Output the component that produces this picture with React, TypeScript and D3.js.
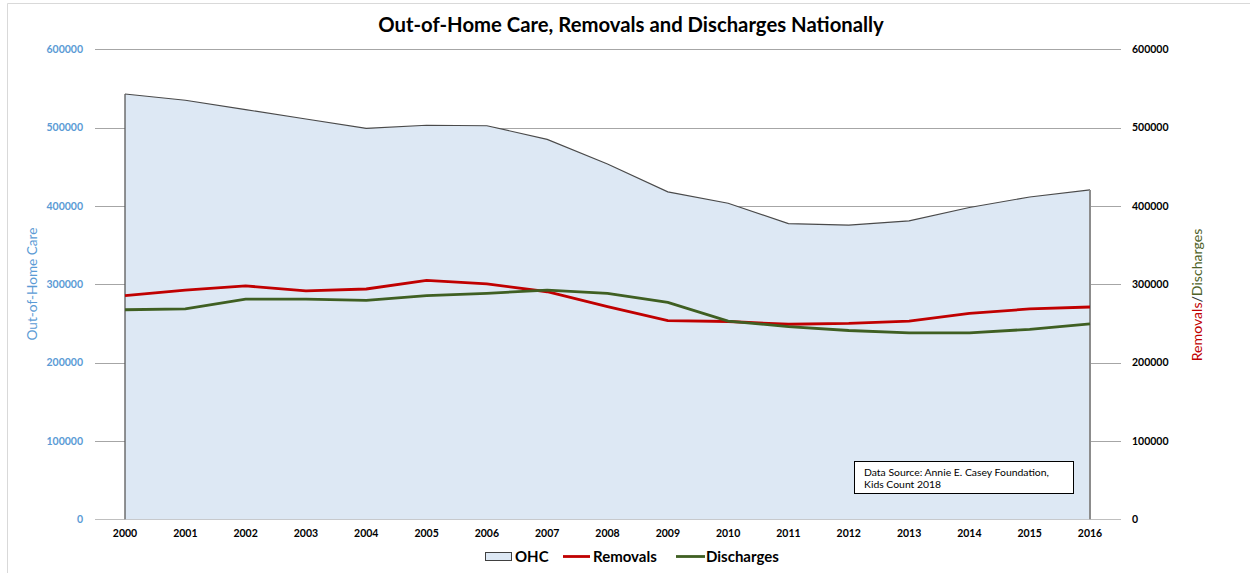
import React, { useEffect, useRef } from "react";
import * as d3 from "d3";

const years = [
    "2000", "2001", "2002", "2003", "2004", "2005", "2006", "2007", "2008",
    "2009", "2010", "2011", "2012", "2013", "2014", "2015", "2016",
];
const ohc = [
    543000, 535000, 523000, 511000, 499000, 503000, 502500, 485000, 453500,
    418000, 403500, 377500, 375500, 381000, 398000, 411500, 420500,
];
const removals = [
    285500, 292500, 298000, 291500, 294000, 305000, 300500, 290500, 271500,
    253500, 252500, 249000, 250000, 253000, 263000, 268500, 271000,
];
const discharges = [
    267500, 268500, 281000, 281000, 279500, 285500, 288500, 292500, 288500,
    277000, 253000, 246000, 241000, 238000, 238000, 242500, 249500,
];
const yTicks = [0, 100000, 200000, 300000, 400000, 500000, 600000];

const W = 1250;
const H = 573;
const FONT = "Lato, 'Open Sans', sans-serif";
const BLUE = "#5B9BD5";
const RED = "#C00000";
const GREEN = "#3F5F22";
const FILL = "#DDE8F4";

const App = () => {
    const svgRef = useRef(null);

    useEffect(() => {
        const svg = d3.select(svgRef.current);
        svg.selectAll("*").remove();

        const x = d3.scalePoint().domain(years).range([125, 1090]);
        const y = d3.scaleLinear().domain([0, 600000]).range([519.3, 49.3]);
        const y2 = d3.scaleLinear().domain([0, 600000]).range([519.3, 49.3]);

        // frame
        svg.append("path")
            .attr("d", `M7.5,${H} V3.5 H${W}`)
            .attr("fill", "none")
            .attr("stroke", "#d9d9d9")
            .attr("stroke-width", 1);

        // gridlines
        svg.append("g")
            .selectAll("line")
            .data(yTicks)
            .enter()
            .append("line")
            .attr("x1", 95)
            .attr("x2", 1121)
            .attr("y1", (d) => Math.round(y(d)) + 0.5)
            .attr("y2", (d) => Math.round(y(d)) + 0.5)
            .attr("stroke", (d) => (d === 0 ? "#bfbfbf" : "#a6a6a6"))
            .attr("stroke-width", 1);

        // OHC area
        const area = d3
            .area<number>()
            .x((_d, i) => x(years[i]))
            .y0(y(0))
            .y1((d) => y(d));
        svg.append("path")
            .datum(ohc)
            .attr("d", area)
            .attr("fill", FILL)
            .attr("stroke", "none");

        const top = d3
            .line<number>()
            .x((_d, i) => x(years[i]))
            .y((d) => y(d));
        svg.append("path")
            .datum(ohc)
            .attr("d", top)
            .attr("fill", "none")
            .attr("stroke", "#4a4a4a")
            .attr("stroke-width", 1.1);

        // side edges of the area
        svg.append("line")
            .attr("x1", x("2000"))
            .attr("x2", x("2000"))
            .attr("y1", y(ohc[0]))
            .attr("y2", y(0))
            .attr("stroke", "#595959")
            .attr("stroke-width", 1.3);
        svg.append("line")
            .attr("x1", x("2016"))
            .attr("x2", x("2016"))
            .attr("y1", y(ohc[ohc.length - 1]))
            .attr("y2", y(0))
            .attr("stroke", "#8c8c8c")
            .attr("stroke-width", 2);

        // removals / discharges
        const line2 = d3
            .line<number>()
            .x((_d, i) => x(years[i]))
            .y((d) => y2(d));
        svg.append("path")
            .datum(removals)
            .attr("d", line2)
            .attr("fill", "none")
            .attr("stroke", RED)
            .attr("stroke-width", 2.8);
        svg.append("path")
            .datum(discharges)
            .attr("d", line2)
            .attr("fill", "none")
            .attr("stroke", GREEN)
            .attr("stroke-width", 2.8);

        // left axis labels
        svg.append("g")
            .selectAll("text")
            .data(yTicks)
            .enter()
            .append("text")
            .attr("x", 83)
            .attr("y", (d) => y(d))
            .attr("dy", "0.35em")
            .attr("text-anchor", "end")
            .attr("font-family", FONT)
            .attr("font-weight", "bold")
            .attr("font-size", 10.5)
            .attr("fill", BLUE)
            .text((d) => String(d));

        // right axis labels
        svg.append("g")
            .selectAll("text")
            .data(yTicks)
            .enter()
            .append("text")
            .attr("x", 1132)
            .attr("y", (d) => y2(d))
            .attr("dy", "0.35em")
            .attr("text-anchor", "start")
            .attr("font-family", FONT)
            .attr("font-weight", "bold")
            .attr("font-size", 10.5)
            .attr("fill", "#000")
            .text((d) => String(d));

        // x labels
        svg.append("g")
            .selectAll("text")
            .data(years)
            .enter()
            .append("text")
            .attr("x", (d) => x(d))
            .attr("y", 537)
            .attr("text-anchor", "middle")
            .attr("font-family", FONT)
            .attr("font-weight", "bold")
            .attr("font-size", 10.5)
            .attr("fill", "#000")
            .text((d) => d);

        // title
        svg.append("text")
            .attr("x", 631)
            .attr("y", 32)
            .attr("text-anchor", "middle")
            .attr("font-family", FONT)
            .attr("font-weight", "bold")
            .attr("font-size", 20.3)
            .attr("fill", "#000")
            .text("Out-of-Home Care, Removals and Discharges Nationally");

        // axis titles
        svg.append("text")
            .attr("transform", "translate(32,284) rotate(-90)")
            .attr("text-anchor", "middle")
            .attr("dominant-baseline", "central")
            .attr("font-family", FONT)
            .attr("font-size", 13.6)
            .attr("fill", BLUE)
            .text("Out-of-Home Care");

        const rt = svg
            .append("text")
            .attr("transform", "translate(1196,295) rotate(-90)")
            .attr("text-anchor", "middle")
            .attr("dominant-baseline", "central")
            .attr("font-family", FONT)
            .attr("font-size", 14.1);
        rt.append("tspan").attr("fill", RED).text("Removals");
        rt.append("tspan").attr("fill", "#333").text("/");
        rt.append("tspan").attr("fill", "#4F6228").text("Discharges");

        // data source box
        svg.append("rect")
            .attr("x", 854.5)
            .attr("y", 461.5)
            .attr("width", 219)
            .attr("height", 32)
            .attr("fill", "#fff")
            .attr("stroke", "#000")
            .attr("stroke-width", 1);
        const src = svg
            .append("text")
            .attr("font-family", FONT)
            .attr("font-size", 10.4)
            .attr("fill", "#000");
        src.append("tspan").attr("x", 864).attr("y", 476).text("Data Source: Annie E. Casey Foundation,");
        src.append("tspan").attr("x", 864).attr("y", 487.5).text("Kids Count 2018");

        // legend
        const lg = svg.append("g").attr("font-family", FONT).attr("font-weight", "bold").attr("font-size", 15);
        lg.append("rect")
            .attr("x", 485.5)
            .attr("y", 552.5)
            .attr("width", 26)
            .attr("height", 8)
            .attr("fill", FILL)
            .attr("stroke", "#404040");
        lg.append("text").attr("x", 515).attr("y", 557).attr("dy", "0.35em").text("OHC");
        lg.append("line")
            .attr("x1", 563).attr("x2", 590)
            .attr("y1", 556.5).attr("y2", 556.5)
            .attr("stroke", RED).attr("stroke-width", 2.8);
        lg.append("text").attr("x", 593).attr("y", 557).attr("dy", "0.35em").text("Removals");
        lg.append("line")
            .attr("x1", 676).attr("x2", 705)
            .attr("y1", 556.5).attr("y2", 556.5)
            .attr("stroke", GREEN).attr("stroke-width", 2.8);
        lg.append("text").attr("x", 706).attr("y", 557).attr("dy", "0.35em").text("Discharges");
    }, []);

    return (
        <svg
            ref={svgRef}
            width={W}
            height={H}
            style={{ position: "absolute", left: 0, top: 0, background: "#fff" }}
        ></svg>
    );
};

export default App;
